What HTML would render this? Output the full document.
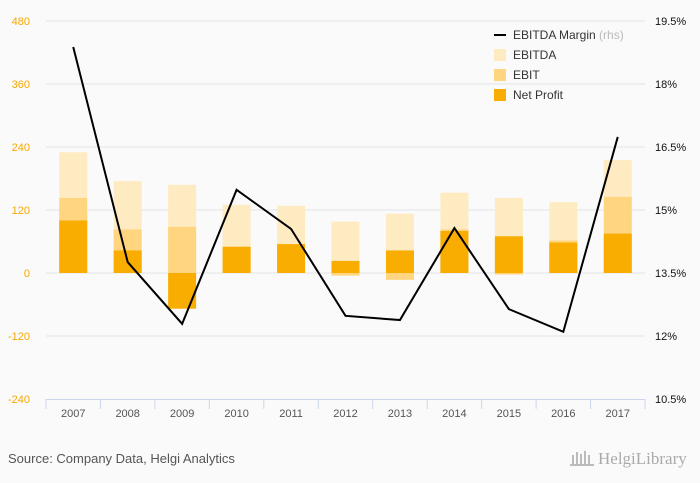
<!DOCTYPE html>
<html><head><meta charset="utf-8"><style>
body{margin:0;background:#fafafa;font-family:"Liberation Sans",sans-serif;}
svg{display:block}
</style></head><body>
<svg width="700" height="483" id="c">
<rect width="700" height="483" fill="#fafafa"/>
<text x="8" y="463" font-size="13" fill="#555">Source: Company Data, Helgi Analytics</text>
<text x="598" y="464" font-size="17" fill="#aaa" font-family="Liberation Serif,serif">HelgiLibrary</text>
<g fill="#bbb"><rect x="572" y="455" width="2" height="9"/><rect x="576" y="452" width="2" height="12"/><rect x="580" y="454" width="2" height="10"/><rect x="584" y="451" width="2" height="13"/><rect x="588" y="455" width="2" height="9"/><rect x="570" y="464" width="24" height="2"/></g>
</svg>
<script>
const categories=["2007","2008","2009","2010","2011","2012","2013","2014","2015","2016","2017"];
const ebitda=[230,175,168,130,128,98,113,153,143,135,215];
const ebit=[143,83,88,50,55,-5,-13,83,-3,62,145];
const netProfit=[100,43,-68,50,55,23,43,80,70,58,75];
const margin=[18.88,13.76,12.29,15.48,14.55,12.48,12.38,14.57,12.64,12.10,16.74];
const leftTicks=[480,360,240,120,0,-120,-240];
const rightTicks=["19.5%","18%","16.5%","15%","13.5%","12%","10.5%"];
const NS="http://www.w3.org/2000/svg",svg=document.getElementById('c');
const x0=46,x1=645,yTop=21,yBot=399,band=(x1-x0)/categories.length;
const y=v=>yTop+(480-v)*(yBot-yTop)/720;
const yr=v=>yTop+(19.5-v)*(yBot-yTop)/9;
const cx=i=>x0+band*(i+0.5);
function mk(t,a,p){const e=document.createElementNS(NS,t);for(const k in a)e.setAttribute(k,a[k]);(p||svg).appendChild(e);return e;}
leftTicks.forEach((t,i)=>{
 const yy=y(t);
 if(t!==-240){const g=mk('line',{x1:x0,x2:x1,y1:yy,y2:yy,stroke:'#e4e4e4'});
 
 }
 const l=mk('text',{x:30,y:yy+4,'font-size':11,fill:'#f5a800','text-anchor':'end'});l.textContent=t;
 
 
 const r=mk('text',{x:655,y:yy+4,'font-size':11,fill:'#111'});r.textContent=rightTicks[i];
 
 
});
const ax=mk('line',{x1:x0,x2:x1,y1:yBot+0.5,y2:yBot+0.5,stroke:'#ccd6eb'});


for(let i=0;i<=categories.length;i++){const xx=x0+band*i;const t=mk('line',{x1:xx,x2:xx,y1:yBot,y2:yBot+10,stroke:'#ccd6eb'});
 
 }
const bw=28;
function bar(v,col,name,i){const a=y(Math.max(v,0)),b=y(Math.min(v,0));const r=mk('rect',{x:cx(i)-bw/2,y:a,width:bw,height:Math.max(b-a,0.5),fill:col});
 
 }
categories.forEach((c,i)=>{
 bar(ebitda[i],'#ffebc2','ebitda',i);bar(ebit[i],'#ffd580','ebit',i);bar(netProfit[i],'#f9ad00','net-profit',i);
 const t=mk('text',{x:cx(i),y:417,'font-size':11,fill:'#555','text-anchor':'middle'});t.textContent=c;
 
 
});
const ln=mk('polyline',{points:margin.map((m,i)=>cx(i)+','+yr(m)).join(' '),fill:'none',stroke:'#000','stroke-width':2});


const lg=[['EBITDA Margin','line'],['EBITDA','#ffebc2'],['EBIT','#ffd580'],['Net Profit','#f9ad00']];
lg.forEach((e,i)=>{const yy=35+i*20;const g=mk('g',{});
 
 
 if(e[1]==='line')mk('line',{x1:494,x2:506,y1:yy,y2:yy,stroke:'#000','stroke-width':2},g);
 else mk('rect',{x:494,y:yy-6,width:12,height:12,fill:e[1]},g);
 const t=mk('text',{x:513,y:yy+4,'font-size':12,fill:'#333'},g);t.textContent=e[0];
 if(i===0){const s=mk('tspan',{fill:'#bbb'},t);s.textContent=' (rhs)';}
});
</script>
</body></html>
